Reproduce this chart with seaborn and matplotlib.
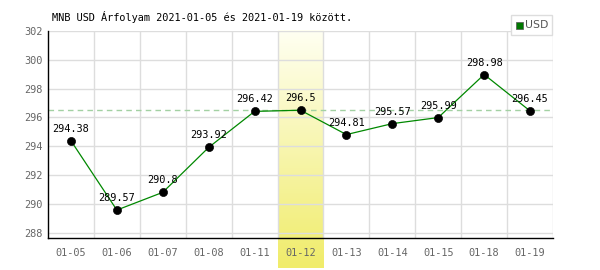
import numpy as np
import pandas as pd
import matplotlib
matplotlib.use("Agg")
import matplotlib.pyplot as plt
from matplotlib.colors import LinearSegmentedColormap
from matplotlib.patches import Rectangle
import seaborn as sns

dates = ["01-05", "01-06", "01-07", "01-08", "01-11", "01-12", "01-13", "01-14", "01-15", "01-18", "01-19"]
values = [294.38, 289.57, 290.8, 293.92, 296.42, 296.5, 294.81, 295.57, 295.99, 298.98, 296.45]
value_labels = ["294.38", "289.57", "290.8", "293.92", "296.42", "296.5", "294.81", "295.57", "295.99", "298.98", "296.45"]
highlight = "01-12"
ref_value = 296.5
yticks = [288, 290, 292, 294, 296, 298, 300, 302]
title = "MNB USD Árfolyam 2021-01-05 és 2021-01-19 között."
series_name = "USD"

df = pd.DataFrame({"date": dates, "value": values, "pos": np.arange(len(dates))})

sns.set_style("white")
plt.rcParams["font.family"] = ["DejaVu Sans Mono", "DejaVu Sans"]

fig = plt.figure(figsize=(6, 2.7), dpi=100)
ax = fig.add_axes([48 / 600, 1 - 238 / 270, (553 - 48) / 600, (238 - 31) / 270])
ymin, ymax = 287.63, 302

# highlight column gradient (extends below the axis over tick label)
hi = dates.index(highlight)
cmap = LinearSegmentedColormap.from_list("hl", ["#fffff2", "#f0ec6a"])
grad = np.linspace(0, 1, 256).reshape(-1, 1)
ybottom = ymin - (268 - 238) / 14.4
ax.imshow(grad, cmap=cmap, aspect="auto", extent=(hi - 0.5, hi + 0.5, ybottom, ymax),
          origin="upper", zorder=0, clip_on=False)
ax.set_xlim(-0.5, len(dates) - 0.5)
ax.set_ylim(ymin, ymax)

ax.set_yticks(yticks)
ax.set_xticks(np.arange(len(dates)))
ax.set_xticklabels(dates)
ax.grid(False)
for yv in yticks:
    ax.axhline(yv, color="#dddddd", lw=1, zorder=0.5)
for xv in np.arange(len(dates)) + 0.5:
    ax.axvline(xv, color="#dddddd", lw=1, zorder=0.5)

ax.axhline(ref_value, color="#a3d1a3", lw=1, ls=(0, (4, 3)), zorder=1)

sns.lineplot(data=df, x="pos", y="value", ax=ax, color="#008800", lw=0.9, zorder=2, legend=False)
sns.scatterplot(data=df, x="pos", y="value", ax=ax, color="black", s=34, edgecolor="black", zorder=3, legend=False)

for p, v, lab in zip(df["pos"], values, value_labels):
    ax.annotate(lab, (p, v), xytext=(0, 5), textcoords="offset points", ha="center", va="bottom",
                fontsize=7.4, color="black", zorder=4)

ax.set_xlabel("")
ax.set_ylabel("")
ax.tick_params(axis="both", which="both", length=0, labelsize=7.4, labelcolor="#666666")
ax.tick_params(axis="x", pad=7)
ax.tick_params(axis="y", pad=4)

for s in ["top", "right"]:
    ax.spines[s].set_visible(False)
ax.spines["left"].set_color("black")
ax.spines["bottom"].set_color("black")
ax.spines["left"].set_linewidth(1)
ax.spines["bottom"].set_linewidth(1)

fig.text(52 / 600, 1 - 17 / 270, title, fontsize=7.4, color="black", va="center", ha="left")

# legend box
fig.patches.append(Rectangle((511 / 600, 1 - 35 / 270), 41 / 600, 20 / 270, transform=fig.transFigure,
                             facecolor="white", edgecolor="#dddddd", lw=1, zorder=5))
fig.patches.append(Rectangle((516 / 600, 1 - 29 / 270), 7 / 600, 7 / 270, transform=fig.transFigure,
                             facecolor="#007700", edgecolor="#555555", lw=0.5, zorder=6))
fig.text(525 / 600, 1 - 25.5 / 270, series_name, fontsize=7.8, color="#555555", va="center", ha="left",
         family=["DejaVu Sans"], zorder=7)

fig.savefig("out.png", dpi=100)
